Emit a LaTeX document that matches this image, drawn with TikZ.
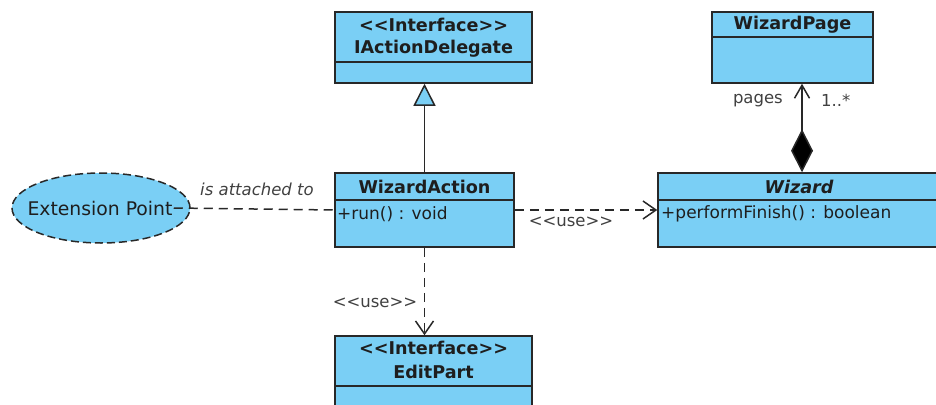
\documentclass[tikz,border=0pt]{standalone}
\usepackage{fontspec}
\setmainfont{DejaVu Sans}
\usetikzlibrary{arrows.meta,shapes.geometric,calc}
\definecolor{umlblue}{RGB}{122,207,245}
\definecolor{umlline}{RGB}{40,40,40}
\definecolor{umltext}{RGB}{30,30,30}
\newcommand{\stereo}[1]{<{}<#1>{}>}
\tikzset{
  cls/.style={draw=umlline, fill=umlblue, line width=1.5pt, rectangle, inner sep=0pt},
  divider/.style={draw=umlline, line width=1.5pt},
  cname/.style={font=\fontsize{17.6}{19}\selectfont\bfseries, text=umltext, inner sep=0pt},
  member/.style={font=\fontsize{17}{19}\selectfont, text=umltext, inner sep=0pt, anchor=west},
  lbl/.style={font=\fontsize{16.5}{19}\selectfont, text=umltext!85, inner sep=0pt},
  conn/.style={draw=umlline, line width=1.5pt},
  dashconn/.style={conn, dash pattern=on 9pt off 6pt},
  openv/.style={-{Straight Barb[length=13pt,width=18pt,line width=1.5pt]}}
}
\begin{document}
\begin{tikzpicture}[x=1pt,y=-1pt]
\useasboundingbox (0,0) rectangle (936,404);
\begin{scope}
\clip (0,0) rectangle (936,404);
% classes
\node[cls, minimum width=197pt, minimum height=71pt] (iad) at (433.5,47.5) {};
\draw[divider] (335,62) -- (532,62);
\node[cname] (iadst) at (433.5,25) {\stereo{Interface}};
\node[cname] (iadn) at (433.5,49) {IActionDelegate};

\node[cls, minimum width=161pt, minimum height=71pt] (wp) at (792.5,47.5) {};
\draw[divider] (712,37) -- (873,37);
\node[cname] (wpn) at (792.5,24.5) {WizardPage};

\node[cls, minimum width=179pt, minimum height=74pt] (wa) at (424.5,210) {};
\draw[divider] (335,200) -- (514,200);
\node[cname] (wan) at (424.5,186.5) {WizardAction};
\node[member] (wam) at (337,214) {+run() : void};

\node[cls, minimum width=284pt, minimum height=74pt] (wz) at (800,210) {};
\draw[divider] (658,200) -- (942,200);
\node[cname, font=\fontsize{17.6}{19}\selectfont\bfseries\itshape] (wzn) at (799,186.5) {Wizard};
\node[member] (wzm) at (661,214) {+performFinish() : boolean};

\node[cls, minimum width=197pt, minimum height=71pt] (ep) at (433.5,371.5) {};
\draw[divider] (335,386) -- (532,386);
\node[cname] (epst) at (433.5,348) {\stereo{Interface}};
\node[cname] (epn) at (433.5,372) {EditPart};

\node[ellipse, draw=umlline, fill=umlblue, line width=1.5pt, dash pattern=on 8pt off 4pt,
      minimum width=178pt, minimum height=70pt, inner sep=0pt] (ext) at (101,208) {};
\node[font=\fontsize{18.8}{20}\selectfont, text=umltext, inner sep=0pt] (extn) at (100,208) {Extension Point};

% connectors
\draw[conn, -{Triangle[length=22pt,width=22pt,line width=1.5pt,fill=umlblue]}]
  (wa.north) -- (wa.north |- iad.south);
\draw[conn, {Diamond[length=43pt,width=22pt,fill=black]}-{Straight Barb[length=13pt,width=15pt,line width=1.5pt]}]
  ([xshift=2pt]wz.north) -- ([xshift=2pt]wz.north |- wp.south);
\draw[dashconn, openv] (wa.east) -- (wz.west);
\draw[dashconn, openv] (wa.south) -- (wa.south |- ep.north);
\draw[dashconn] ([xshift=-17pt]ext.east) -- (wa.west);

% labels
\node[lbl, anchor=east] (lpages) at (783,101) {pages};
\node[lbl, anchor=west] (lmult) at (821,100) {1..*};
\node[lbl, font=\fontsize{16.5}{19}\selectfont\itshape] (latt) at (257,189) {is attached to};
\node[lbl] (luse1) at (571,222) {\stereo{use}};
\node[lbl] (luse2) at (375,303) {\stereo{use}};
\end{scope}
\end{tikzpicture}
\end{document}
